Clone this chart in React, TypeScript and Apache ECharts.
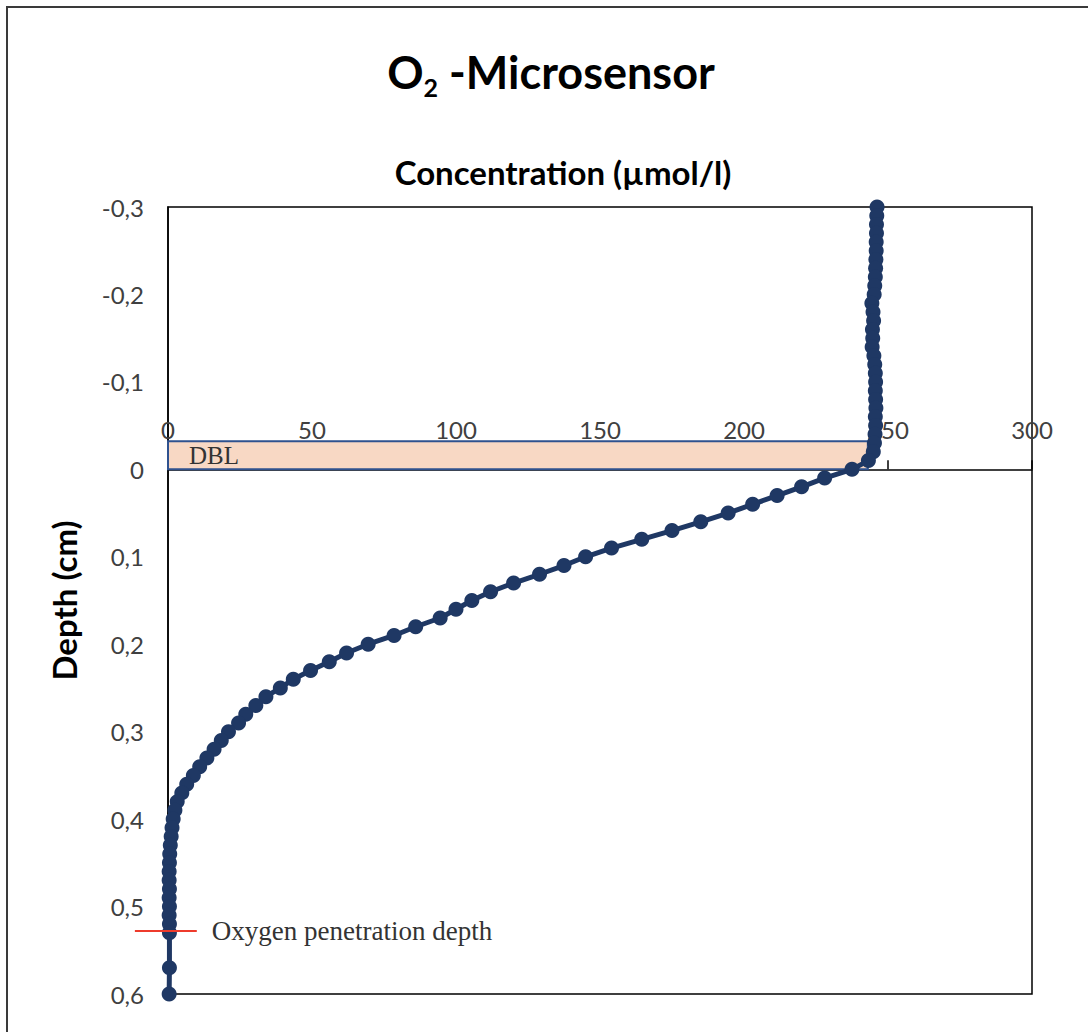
import React, { useEffect, useRef } from "react";
import * as echarts from "echarts";

// Depth (cm) and O2 concentration (µmol/l) read from the profile
const depths: number[] = [
  -0.30, -0.29, -0.28, -0.27, -0.26, -0.25, -0.24, -0.23, -0.22, -0.21,
  -0.20, -0.19, -0.18, -0.17, -0.16, -0.15, -0.14, -0.13, -0.12, -0.11,
  -0.10, -0.09, -0.08, -0.07, -0.06, -0.05, -0.04, -0.03, -0.02, -0.01,
  0.00, 0.01, 0.02, 0.03, 0.04, 0.05, 0.06, 0.07, 0.08, 0.09,
  0.10, 0.11, 0.12, 0.13, 0.14, 0.15, 0.16, 0.17, 0.18, 0.19,
  0.20, 0.21, 0.22, 0.23, 0.24, 0.25, 0.26, 0.27, 0.28, 0.29,
  0.30, 0.31, 0.32, 0.33, 0.34, 0.35, 0.36, 0.37, 0.38, 0.39,
  0.40, 0.41, 0.42, 0.43, 0.44, 0.45, 0.46, 0.47, 0.48, 0.49,
  0.50, 0.51, 0.52, 0.53, 0.57, 0.60,
];
const concentrations: number[] = [
  246.2, 246.1, 246.0, 246.0, 245.9, 245.9, 245.8, 245.7, 245.6, 245.4,
  245.2, 244.4, 244.8, 245.0, 244.6, 244.7, 244.5, 245.1, 245.4, 245.6,
  245.7, 245.6, 245.7, 245.8, 245.6, 245.7, 245.5, 245.3, 244.9, 243.2,
  237.5, 228.0, 220.0, 211.5, 203.0, 194.5, 185.0, 175.0, 164.5, 154.0,
  145.0, 137.5, 129.0, 120.0, 112.0, 105.5, 100.0, 94.5, 86.0, 78.5,
  69.5, 62.0, 56.0, 49.5, 43.5, 39.0, 34.0, 30.5, 27.0, 24.5,
  21.0, 18.5, 16.0, 13.5, 11.0, 8.8, 6.5, 4.8, 3.2, 2.4,
  1.8, 1.4, 1.1, 0.8, 0.6, 0.5, 0.4, 0.4, 0.5, 0.4,
  0.5, 0.4, 0.5, 0.5, 0.5, 0.4,
];

// Annotations
const dblTop = -0.032; // top of diffusive boundary layer (cm)
const dblBottom = 0;
const dblEndConc = 243;
const opdDepth = 0.528; // oxygen penetration depth (cm)
const opdLineX: number[] = [-11.5, 10];

const xTicks = { min: 0, max: 300, interval: 50 };
const yTicks = { min: -0.3, max: 0.6, interval: 0.1 };

const navy = "#1f3864";

const GRID = { left: 168, top: 207, width: 864, height: 787 };

export default function App() {
  const ref = useRef<HTMLDivElement>(null);
  useEffect(() => {
    if (!ref.current) return;
    const chart = echarts.init(ref.current, undefined, { renderer: "svg" });
    const profile = depths.map((d, i) => [concentrations[i], d]);
    const borderRect = {
      id: "outer",
      type: "rect",
      shape: { x: 7, y: 7, width: 1300, height: 1300 },
      style: { fill: "none", stroke: "#3a3a3a", lineWidth: 2 },
      silent: true,
    };
    chart.setOption({
      animation: false,
      backgroundColor: "#ffffff",
      title: [
        {
          text: "{a|O}{b|2}{a| -Microsensor}",
          left: 546,
          top: 40,
          textAlign: "center",
          textStyle: {
            rich: {
              a: { fontFamily: "Lato", fontWeight: "bold", fontSize: 45, color: "#000", lineHeight: 54 },
              b: { fontFamily: "Lato", fontWeight: "bold", fontSize: 25, color: "#000", verticalAlign: "bottom", lineHeight: 25 },
            },
          },
        },
        {
          text: "Concentration (µmol/l)",
          left: 558,
          top: 150,
          textAlign: "center",
          textStyle: { fontFamily: "Lato", fontWeight: "bold", fontSize: 33, color: "#000" },
        },
      ],
      graphic: [borderRect],
      grid: {
        ...GRID,
        show: true,
        borderColor: "#000",
        borderWidth: 1.5,
        backgroundColor: "transparent",
      },
      xAxis: {
        type: "value",
        position: "top",
        min: xTicks.min,
        max: xTicks.max,
        interval: xTicks.interval,
        axisLine: { show: true, onZero: true, lineStyle: { color: "#000", width: 1.5 } },
        axisTick: { show: true, length: 9, lineStyle: { color: "#000", width: 1.5 } },
        axisLabel: { fontFamily: "Lato", fontSize: 24, color: "#404040", margin: -234 },
        splitLine: { show: false },
      },
      yAxis: {
        type: "value",
        inverse: true,
        min: yTicks.min,
        max: yTicks.max,
        interval: yTicks.interval,
        name: "Depth (cm)",
        nameLocation: "middle",
        nameGap: 88,
        nameRotate: 90,
        nameTextStyle: { fontFamily: "Lato", fontWeight: "bold", fontSize: 33, color: "#000" },
        axisLine: { show: true, onZero: false, lineStyle: { color: "#000", width: 1.5 } },
        axisTick: { show: false },
        axisLabel: {
          fontFamily: "Lato",
          fontSize: 24,
          color: "#404040",
          margin: 24,
          formatter: (v: number) => {
            const r = Math.round(v * 10) / 10;
            return r === 0 ? "0" : r.toFixed(1).replace(".", ",");
          },
        },
        splitLine: { show: false },
      },
      series: [
        {
          type: "line",
          data: profile,
          symbol: "circle",
          symbolSize: 15,
          showSymbol: true,
          lineStyle: { color: navy, width: 5 },
          itemStyle: { color: navy },
          z: 3,
          markArea: {
            silent: true,
            itemStyle: { color: "#f8d8c4", borderColor: "#2f528f", borderWidth: 2 },
            label: {
              show: true,
              position: "insideLeft",
              distance: 22,
              formatter: "DBL",
              fontFamily: "Liberation Serif",
              fontSize: 25,
              color: "#333",
            },
            data: [[{ coord: [0, dblTop] }, { coord: [dblEndConc, dblBottom] }]],
          },
        },
      ],
    });
    // Oxygen penetration depth marker, placed through the axes' scales
    const p1 = chart.convertToPixel({ gridIndex: 0 }, [opdLineX[0], opdDepth]) as number[];
    const p2 = chart.convertToPixel({ gridIndex: 0 }, [opdLineX[1], opdDepth]) as number[];
    chart.setOption({
      graphic: [
        borderRect,
        {
          id: "opdLine",
          type: "line",
          z: 10,
          shape: { x1: p1[0], y1: p1[1], x2: p2[0], y2: p2[1] },
          style: { stroke: "#ee3b2c", lineWidth: 2 },
          silent: true,
        },
        {
          id: "opdText",
          type: "text",
          z: 10,
          x: p2[0] + 15,
          y: p2[1],
          style: {
            text: "Oxygen penetration depth",
            fontFamily: "Liberation Serif",
            fontSize: 27,
            fill: "#333",
            verticalAlign: "middle",
            align: "left",
          },
          silent: true,
        },
      ],
    });
    return () => chart.dispose();
  }, []);
  return (
    <div
      ref={ref}
      style={{ position: "fixed", left: 0, top: 0, width: 1088, height: 1032, background: "#fff" }}
    />
  );
}
